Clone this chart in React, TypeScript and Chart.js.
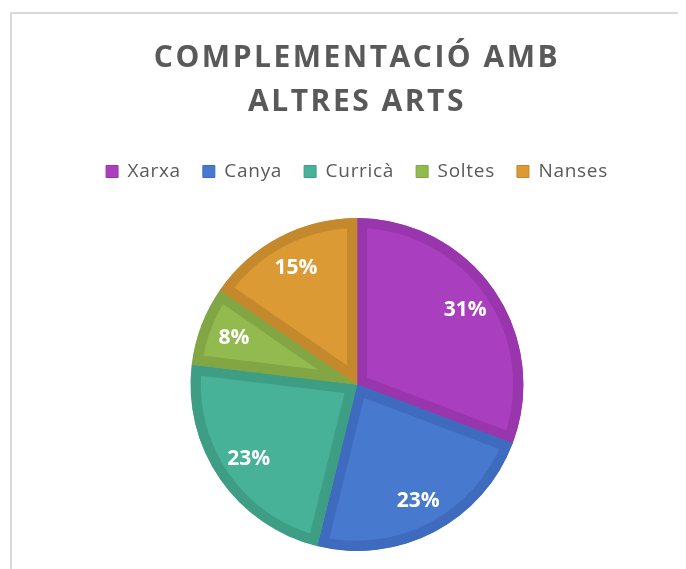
import React, { useEffect, useRef } from "react";
import { Chart, registerables } from "chart.js";

Chart.register(...registerables);

const categories = ["Xarxa", "Canya", "Curricà", "Soltes", "Nanses"];
const values = [4, 3, 3, 1, 2];
const titleLines = ["COMPLEMENTACIÓ AMB", "ALTRES ARTS"];
const fillColors = ["#A93EBE", "#4779CF", "#47B297", "#92BA4F", "#DB9A33"];
const borderColors = ["#9936AE", "#3F6BBE", "#3D9E85", "#82A644", "#C4892C"];

const TEXT_COLOR = "#595959";

const spacingPlugin = {
  id: "spacingPlugin",
  beforeInit(chart: any) {
    const legend = chart.legend;
    if (legend && !legend.__fitWrapped) {
      const origFit = legend.fit.bind(legend);
      legend.fit = function () {
        origFit();
        this.height += 27;
      };
      legend.__fitWrapped = true;
    }
  },
  beforeLayout(chart: any) {
    chart.ctx.letterSpacing = "0.7px";
  },
  beforeDraw(chart: any) {
    const ctx = chart.ctx;
    ctx.letterSpacing = "0.7px";
    const tb = chart.titleBlock;
    if (tb && !tb.__wrapped) {
      const orig = tb.draw.bind(tb);
      tb.draw = (area: any) => {
        const prev = ctx.letterSpacing;
        ctx.letterSpacing = "2.5px";
        orig(area);
        ctx.letterSpacing = prev;
      };
      tb.__wrapped = true;
    }
  },
};

const pctLabelPlugin = {
  id: "pctLabelPlugin",
  afterDatasetsDraw(chart: any) {
    const ctx = chart.ctx;
    const meta = chart.getDatasetMeta(0);
    const total = values.reduce((a, b) => a + b, 0);
    ctx.save();
    ctx.letterSpacing = "0px";
    ctx.font = 'bold 21px "Open Sans"';
    ctx.fillStyle = "#FFFFFF";
    ctx.textAlign = "center";
    ctx.textBaseline = "middle";
    meta.data.forEach((arc: any, i: number) => {
      const p = arc.getProps(["x", "y", "startAngle", "endAngle", "outerRadius"], true);
      const mid = (p.startAngle + p.endAngle) / 2;
      const r = p.outerRadius * 0.79;
      const pct = Math.round((values[i] / total) * 100) + "%";
      ctx.fillText(pct, p.x + Math.cos(mid) * r, p.y + Math.sin(mid) * r);
    });
    ctx.restore();
  },
};

export default function App() {
  const canvasRef = useRef<HTMLCanvasElement | null>(null);

  useEffect(() => {
    document.body.style.overflow = "hidden";
    const canvas = canvasRef.current;
    if (!canvas) return;
    const chart = new Chart(canvas, {
      type: "pie",
      data: {
        labels: categories,
        datasets: [
          {
            data: values,
            backgroundColor: fillColors,
            borderColor: borderColors,
            borderWidth: 10,
            borderAlign: "inner",
            borderJoinStyle: "miter",
          } as any,
        ],
      },
      options: {
        responsive: false,
        animation: false,
        events: [],
        layout: { padding: { top: 0, bottom: 18, left: 0, right: 0 } },
        plugins: {
          title: {
            display: true,
            text: titleLines,
            color: TEXT_COLOR,
            font: { family: "Open Sans", size: 30, weight: "bold", lineHeight: 1.45 },
            padding: { top: 23, bottom: 16 },
          },
          legend: {
            display: true,
            position: "top",
            labels: {
              color: TEXT_COLOR,
              font: { family: "Open Sans", size: 19 },
              boxWidth: 12,
              boxHeight: 12,
              padding: 22,
              generateLabels: () =>
                categories.map((c, i) => ({
                  text: c,
                  fillStyle: fillColors[i],
                  strokeStyle: borderColors[i],
                  lineWidth: 1,
                  hidden: false,
                  index: i,
                  fontColor: TEXT_COLOR,
                })),
            },
          },
          tooltip: { enabled: false },
        },
      } as any,
      plugins: [spacingPlugin, pctLabelPlugin],
    });
    return () => chart.destroy();
  }, []);

  return (
    <div style={{ position: "relative", width: 678, height: 561, overflow: "hidden" }}>
      <div
        style={{
          position: "absolute",
          left: 2,
          top: 4,
          width: 720,
          height: 600,
          border: "2px solid #D9D9D9",
          boxSizing: "border-box",
          background: "#FFFFFF",
        }}
      >
        <canvas ref={canvasRef} width={690} height={555} style={{ display: "block", width: 690, height: 555 }} />
      </div>
    </div>
  );
}
